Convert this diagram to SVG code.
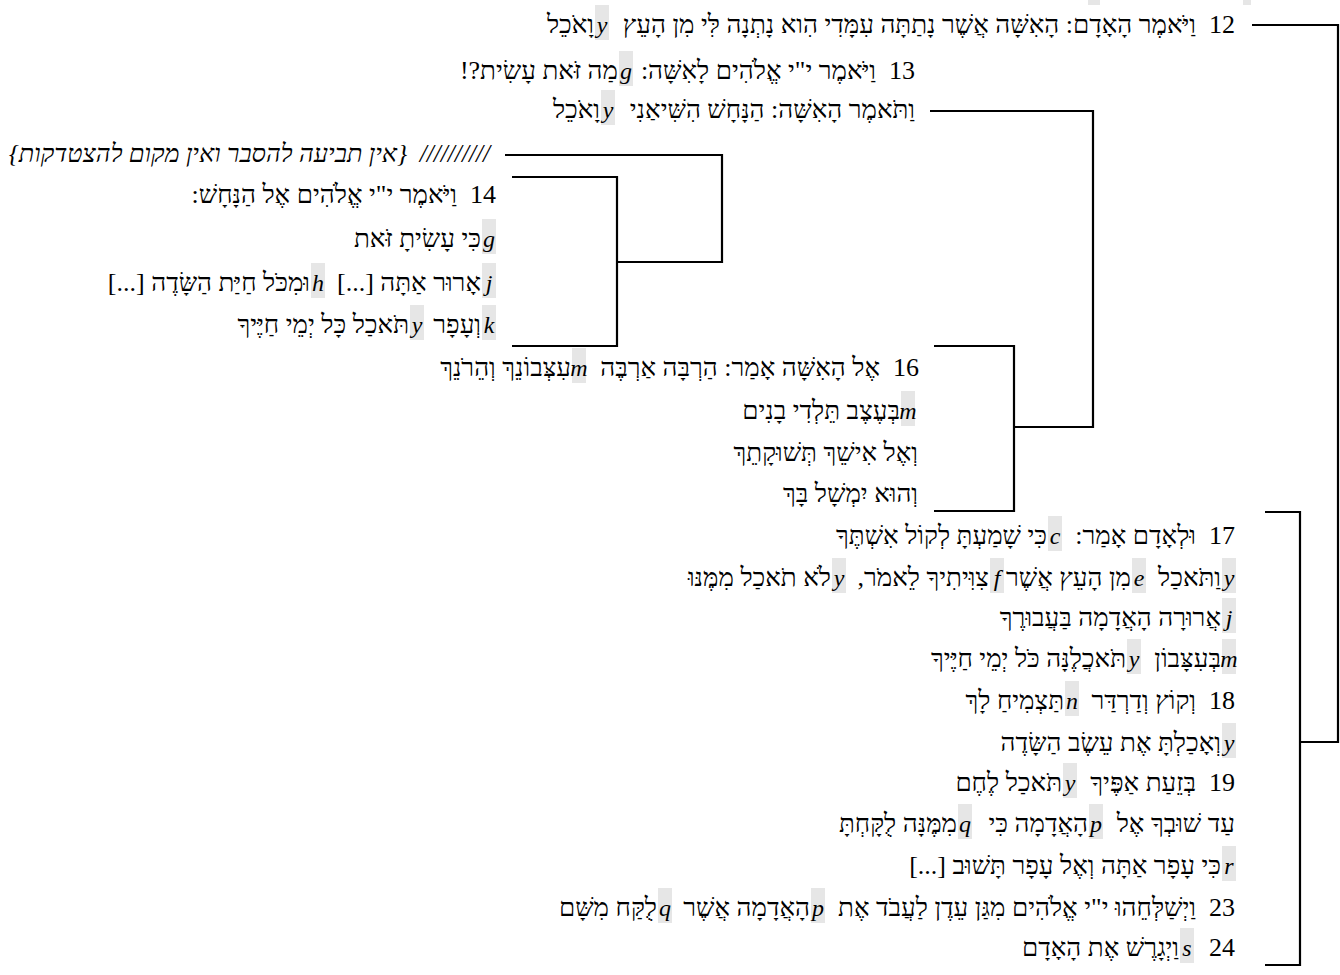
<svg xmlns="http://www.w3.org/2000/svg" width="1340" height="975" viewBox="0 0 1340 975">
<style>
.t{font-family:"Liberation Serif","DejaVu Serif",serif;font-size:26px;fill:#000;direction:rtl;text-anchor:start;white-space:pre}
.i{font-style:italic;font-size:25.3px}
.mk{font-family:"Liberation Serif",serif;font-size:24px;font-style:italic;fill:#000;text-anchor:middle}
.b{fill:#e6e6e6}
.c{fill:none;stroke:#000;stroke-width:2.2}
</style>
<rect width="1340" height="975" fill="#fff"/>
<rect class="b" x="1088" y="0" width="12" height="5"/>
<rect class="b" x="1243" y="0" width="8" height="5"/>
<g id="connectors">
<polyline class="c" points="1252,25 1338,25 1338,742 1300,742"/>
<polyline class="c" points="1265,512 1300,512 1300,965 1265,965"/>
<polyline class="c" points="930,111 1093,111 1093,427 1014,427"/>
<polyline class="c" points="934,346 1014,346 1014,511 934,511"/>
<polyline class="c" points="505,155 722,155 722,262 617,262"/>
<polyline class="c" points="512,177 617,177 617,346 512,346"/>
</g>
<g id="l1"><text class="t" x="1235" y="33">12  וַיֹּאמֶר הָאָדָם: הָאִשָּׁה אֲשֶׁר נָתַתָּה עִמָּדִי הִוא נָתְנָה לִּי מִן הָעֵץ</text><rect class="b" x="595" y="5" width="14" height="35"/><text class="mk" x="602" y="33">y</text><text class="t" x="594" y="33">וָאֹכֵל</text></g>
<g id="l2"><text class="t" x="915" y="79">13  וַיֹּאמֶר י"י אֱלֹהִים לָאִשָּׁה:</text><rect class="b" x="619" y="51" width="14" height="35"/><text class="mk" x="626" y="79">g</text><text class="t" x="618" y="79">מַה זֹּאת עָשִׂית?!</text></g>
<g id="l3"><text class="t" x="915" y="118">וַתֹּאמֶר הָאִשָּׁה: הַנָּחָשׁ הִשִּׁיאַנִי</text><rect class="b" x="601" y="90" width="14" height="35"/><text class="mk" x="608" y="118">y</text><text class="t" x="600" y="118">וָאֹכֵל</text></g>
<g id="l4"><text class="t i" x="490" y="162">//////////  {אין תביעה להסבר ואין מקום להצטדקות}</text></g>
<g id="l5"><text class="t" x="496" y="203">14  וַיֹּאמֶר י"י אֱלֹהִים אֶל הַנָּחָשׁ:</text></g>
<g id="l6"><rect class="b" x="482" y="219" width="14" height="35"/><text class="mk" x="489" y="247">g</text><text class="t" x="481" y="247">כִּי עָשִׂיתָ זֹּאת</text></g>
<g id="l7"><rect class="b" x="482" y="263" width="14" height="35"/><text class="mk" x="489" y="291">j</text><text class="t" x="481" y="291">אָרוּר אַתָּה [...]</text><rect class="b" x="311" y="263" width="14" height="35"/><text class="mk" x="318" y="291">h</text><text class="t" x="310" y="291">וּמִכֹּל חַיַּת הַשָּׂדֶה [...]</text></g>
<g id="l8"><rect class="b" x="482" y="305" width="14" height="35"/><text class="mk" x="489" y="333">k</text><text class="t" x="481" y="333">וְעָפָר</text><rect class="b" x="410" y="305" width="14" height="35"/><text class="mk" x="417" y="333">y</text><text class="t" x="409" y="333">תֹּאכַל כָּל יְמֵי חַיֶּיךָ</text></g>
<g id="l9"><text class="t" x="919" y="376">16  אֶל הָאִשָּׁה אָמַר: הַרְבָּה אַרְבֶּה</text><rect class="b" x="572" y="348" width="14" height="35"/><text class="mk" x="579" y="376">m</text><text class="t" x="571" y="376">עִצְּבוֹנֵךְ וְהֵרֹנֵךְ</text></g>
<g id="l10"><rect class="b" x="901" y="391" width="14" height="35"/><text class="mk" x="908" y="419">m</text><text class="t" x="900" y="419">בְּעֶצֶב תֵּלְדִי בָנִים</text></g>
<g id="l11"><text class="t" x="918" y="461">וְאֶל אִישֵׁךְ תְּשׁוּקָתֵךְ</text></g>
<g id="l12"><text class="t" x="918" y="502">וְהוּא יִמְשָׁל בָּךְ</text></g>
<g id="l13"><text class="t" x="1235" y="544">17  וּלְאָדָם אָמַר:</text><rect class="b" x="1048" y="516" width="14" height="35"/><text class="mk" x="1055" y="544">c</text><text class="t" x="1047" y="544">כִּי שָׁמַעְתָּ לְקוֹל אִשְׁתֶּךָ</text></g>
<g id="l14"><rect class="b" x="1222" y="558" width="14" height="35"/><text class="mk" x="1229" y="586">y</text><text class="t" x="1221" y="586">וַתֹּאכַל</text><rect class="b" x="1132" y="558" width="14" height="35"/><text class="mk" x="1139" y="586">e</text><text class="t" x="1131" y="586">מִן הָעֵץ אֲשֶׁר</text><rect class="b" x="990" y="558" width="14" height="35"/><text class="mk" x="997" y="586">f</text><text class="t" x="989" y="586">צִוִּיתִיךָ לֵאמֹר,</text><rect class="b" x="832" y="558" width="14" height="35"/><text class="mk" x="839" y="586">y</text><text class="t" x="831" y="586">לֹא תֹאכַל מִמֶּנּוּ</text></g>
<g id="l15"><rect class="b" x="1222" y="598" width="14" height="35"/><text class="mk" x="1229" y="626">j</text><text class="t" x="1221" y="626">אֲרוּרָה הָאֲדָמָה בַּעֲבוּרֶךָ</text></g>
<g id="l16"><rect class="b" x="1222" y="639" width="14" height="35"/><text class="mk" x="1229" y="667">m</text><text class="t" x="1221" y="667">בְּעִצָּבוֹן</text><rect class="b" x="1127" y="639" width="14" height="35"/><text class="mk" x="1134" y="667">y</text><text class="t" x="1126" y="667">תֹּאכֲלֶנָּה כֹּל יְמֵי חַיֶּיךָ</text></g>
<g id="l17"><text class="t" x="1235" y="709">18  וְקוֹץ וְדַרְדַּר</text><rect class="b" x="1065" y="681" width="14" height="35"/><text class="mk" x="1072" y="709">n</text><text class="t" x="1064" y="709">תַּצְמִיחַ לָךְ</text></g>
<g id="l18"><rect class="b" x="1222" y="723" width="14" height="35"/><text class="mk" x="1229" y="751">y</text><text class="t" x="1221" y="751">וְאָכַלְתָּ אֶת עֵשֶׂב הַשָּׂדֶה</text></g>
<g id="l19"><text class="t" x="1235" y="791">19  בְּזֵעַת אַפֶּיךָ</text><rect class="b" x="1063" y="763" width="14" height="35"/><text class="mk" x="1070" y="791">y</text><text class="t" x="1062" y="791">תֹּאכַל לֶחֶם</text></g>
<g id="l20"><text class="t" x="1235" y="832">עַד שׁוּבְךָ אֶל</text><rect class="b" x="1089" y="804" width="14" height="35"/><text class="mk" x="1096" y="832">p</text><text class="t" x="1088" y="832">הָאֲדָמָה כִּי</text><rect class="b" x="958" y="804" width="14" height="35"/><text class="mk" x="965" y="832">q</text><text class="t" x="957" y="832">מִמֶּנָּה לֻקָּחְתָּ</text></g>
<g id="l21"><rect class="b" x="1222" y="846" width="14" height="35"/><text class="mk" x="1229" y="874">r</text><text class="t" x="1221" y="874">כִּי עָפָר אַתָּה וְאֶל עָפָר תָּשׁוּב [...]</text></g>
<g id="l22"><text class="t" x="1235" y="916">23  וַיְשַׁלְּחֵהוּ י"י אֱלֹהִים מִגַּן עֵדֶן לַעֲבֹד אֶת</text><rect class="b" x="811" y="888" width="14" height="35"/><text class="mk" x="818" y="916">p</text><text class="t" x="810" y="916">הָאֲדָמָה אֲשֶׁר</text><rect class="b" x="658" y="888" width="14" height="35"/><text class="mk" x="665" y="916">q</text><text class="t" x="657" y="916">לֻקַּח מִשָּׁם</text></g>
<g id="l23"><text class="t" x="1235" y="956">24</text><rect class="b" x="1180" y="928" width="14" height="35"/><text class="mk" x="1187" y="956">s</text><text class="t" x="1179" y="956">וַיְגָרֶשׁ אֶת הָאָדָם</text></g>
</svg>
